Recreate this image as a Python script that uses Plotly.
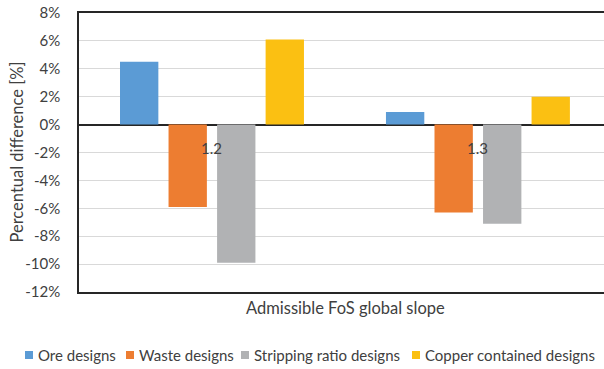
import plotly.graph_objects as go

# Admissible FoS global slope categories
categories = ["1.2", "1.3"]

# Percentual difference per design type (%)
ore_designs = [4.5, 0.9]
waste_designs = [-5.9, -6.3]
stripping_ratio_designs = [-9.9, -7.1]
copper_contained_designs = [6.1, 2.0]

series_names = ["Ore designs", "Waste designs", "Stripping ratio designs", "Copper contained designs"]
series_colors = ["#5B9BD5", "#ED7D31", "#B1B2B4", "#FBC012"]

y_ticks = [8, 6, 4, 2, 0, -2, -4, -6, -8, -10, -12]
y_tick_labels = [f"{v}%" for v in y_ticks]

FONT = "Lato"
TEXT_COLOR = "#404040"

# Plot-area geometry in pixels (used to place the legend and titles)
W, H = 604, 369
L, T, B = 79, 13, 77
PLOT_W = W - L
PLOT_H = H - T - B


def px_to_paper_x(px):
    return (px - L) / PLOT_W


def px_to_paper_y(py):
    return (H - B - py) / PLOT_H


fig = go.Figure()
for name, values, color in zip(
    series_names,
    [ore_designs, waste_designs, stripping_ratio_designs, copper_contained_designs],
    series_colors,
):
    fig.add_trace(go.Bar(x=categories, y=values, name=name, showlegend=False,
                         marker=dict(color=color, line=dict(width=0))))

# Category labels sit just below the zero line
for i, c in enumerate(categories):
    fig.add_annotation(x=i, y=0, xref="x", yref="y", text=c, showarrow=False,
                       yanchor="top", yshift=-12, font=dict(family=FONT, size=15, color=TEXT_COLOR))

fig.add_annotation(x=px_to_paper_x(345), y=px_to_paper_y(308), xref="paper", yref="paper",
                   text="Admissible FoS global slope", showarrow=False,
                   xanchor="center", yanchor="middle",
                   font=dict(family=FONT, size=16.5, color=TEXT_COLOR))
fig.add_annotation(x=px_to_paper_x(16), y=0.5, xref="paper", yref="paper",
                   text="Percentual difference [%]", showarrow=False, textangle=-90,
                   xanchor="center", yanchor="middle",
                   font=dict(family=FONT, size=16.5, color=TEXT_COLOR))

# Legend row: colour key squares with their labels
legend_left = [25, 126, 241, 412]
legend_y = 355
for name, color, x0 in zip(series_names, series_colors, legend_left):
    fig.add_shape(type="rect", xref="paper", yref="paper",
                  x0=px_to_paper_x(x0), x1=px_to_paper_x(x0 + 8),
                  y0=px_to_paper_y(legend_y + 4), y1=px_to_paper_y(legend_y - 4),
                  fillcolor=color, line=dict(width=0))
    fig.add_annotation(x=px_to_paper_x(x0 + 11), y=px_to_paper_y(legend_y), xref="paper", yref="paper",
                       text=name, showarrow=False, xanchor="left", yanchor="middle",
                       font=dict(family=FONT, size=15, color=TEXT_COLOR))

fig.update_layout(
    width=W, height=H,
    margin=dict(l=L, r=0, t=T, b=B),
    paper_bgcolor="white", plot_bgcolor="white",
    barmode="group", bargap=0.27, bargroupgap=0.21,
    font=dict(family=FONT, size=14, color=TEXT_COLOR),
    showlegend=False,
    xaxis=dict(range=[-0.5, 1.474], showticklabels=False, showgrid=False, ticks="",
               showline=True, linecolor="#262626", linewidth=1.5, mirror=True, zeroline=False),
    yaxis=dict(range=[-12, 8], tickvals=y_ticks, ticktext=y_tick_labels, showgrid=True,
               gridcolor="#D9D9D9", gridwidth=1, zeroline=True, zerolinecolor="#262626",
               zerolinewidth=1.5, showline=True, linecolor="#262626", linewidth=1.5,
               ticks="", ticklabelstandoff=14, tickfont=dict(family=FONT, size=15, color=TEXT_COLOR)),
)

fig.write_html("out.html")
